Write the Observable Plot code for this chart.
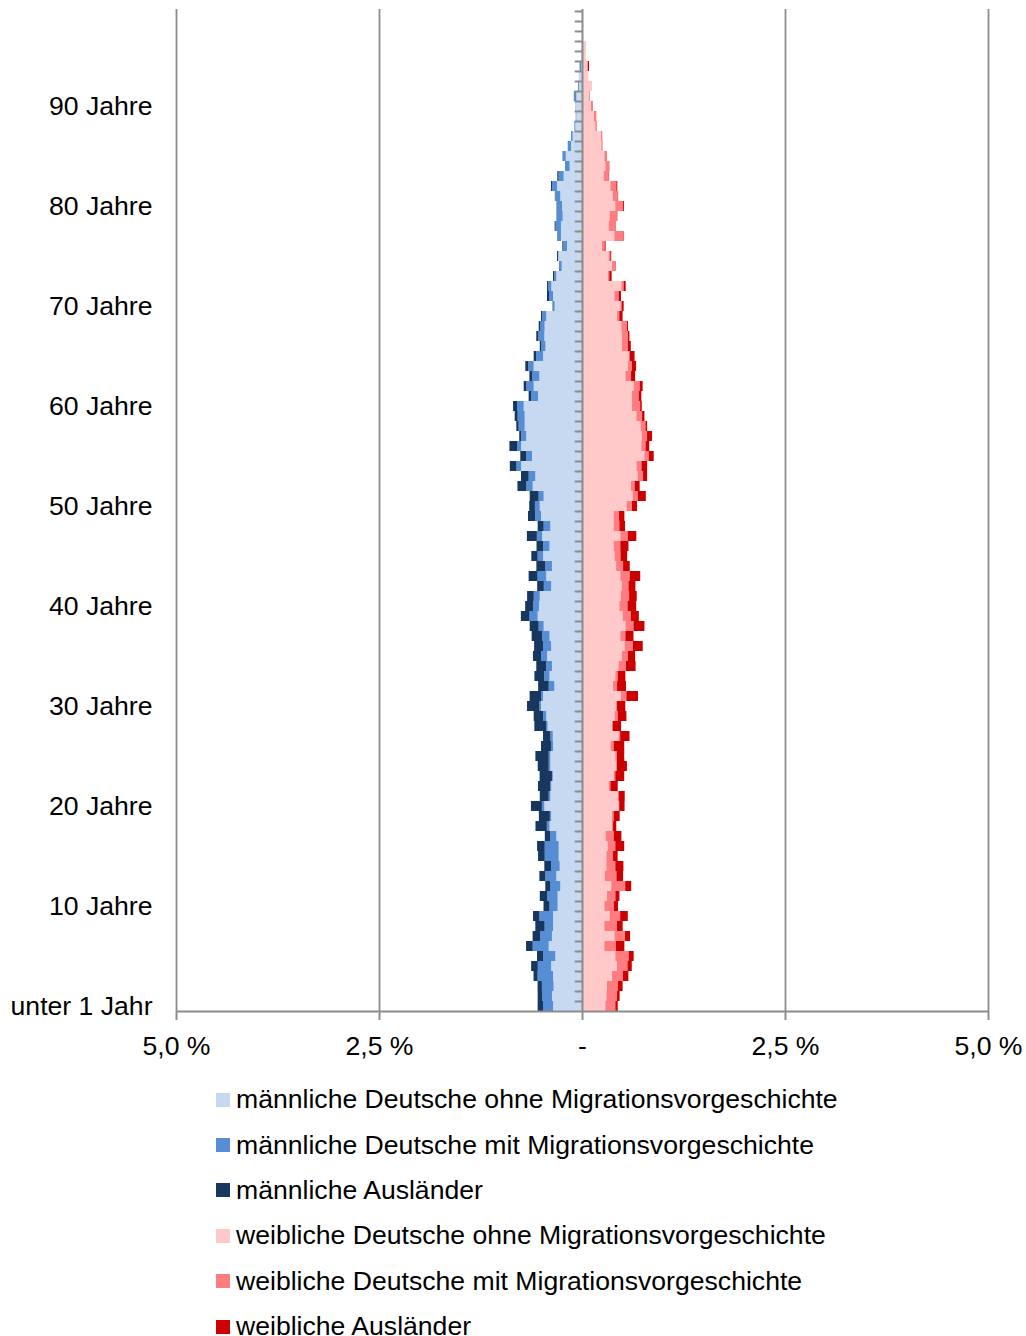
<!DOCTYPE html>
<html><head><meta charset="utf-8">
<script src="https://cdn.jsdelivr.net/npm/d3@7"></script>
<script src="https://cdn.jsdelivr.net/npm/@observablehq/plot@0.6"></script>
<style>
body{margin:0;background:#fff;font-family:"Liberation Sans",Arial,sans-serif;}
#chart{position:absolute;left:0;top:0;}
#legend{position:absolute;left:216px;top:1077px;}
.item{height:45.4px;display:flex;align-items:center;font-size:26.6px;color:#000;white-space:nowrap}
.sw{width:14px;height:14px;margin-right:6px;flex:none}
svg g[aria-label^="x-axis"] line, svg g[aria-label^="x-axis"] path{stroke:#8c8c8c;stroke-width:2px}
</style></head><body><div id="chart"></div><div id="legend"></div>
<script>
const ages = d3.range(0, 100);
const seriesNames = [
  "männliche Deutsche ohne Migrationsvorgeschichte",
  "männliche Deutsche mit Migrationsvorgeschichte",
  "männliche Ausländer",
  "weibliche Deutsche ohne Migrationsvorgeschichte",
  "weibliche Deutsche mit Migrationsvorgeschichte",
  "weibliche Ausländer"
];
const colors = ["#c6d9f1", "#558ed5", "#17375e", "#ffc9c9", "#ff7c80", "#cc0000"];
// values in % per age 0..99
const mOhne = [0.357,0.37,0.35,0.357,0.38,0.328,0.41,0.37,0.357,0.357,
  0.3,0.3,0.267,0.316,0.275,0.287,0.287,0.316,0.4,0.38,
  0.464,0.39,0.378,0.36,0.39,0.39,0.357,0.36,0.423,0.44,
  0.505,0.48,0.34,0.4,0.37,0.43,0.38,0.4,0.472,0.546,
  0.53,0.52,0.38,0.44,0.37,0.48,0.4,0.49,0.39,0.505,
  0.52,0.472,0.607,0.575,0.75,0.616,0.75,0.686,0.706,0.706,
  0.718,0.542,0.595,0.525,0.595,0.48,0.45,0.464,0.46,0.44,
  0.337,0.357,0.378,0.316,0.25,0.29,0.185,0.259,0.259,0.238,
  0.246,0.267,0.308,0.226,0.152,0.2,0.135,0.115,0.082,0.07,
  0.078,0.07,0.037,0.04,0.01,0.01,0.01,0,0,0];
const mMit = [0.123,0.123,0.144,0.19,0.164,0.152,0.197,0.144,0.103,0.168,
  0.1,0.13,0.123,0.135,0.107,0.172,0.172,0.074,0.033,0.016,
  0.03,0.02,0.012,0.01,0.02,0.02,0.025,0.03,0.02,0.04,
  0.02,0.025,0.07,0.066,0.07,0.074,0.1,0.09,0.062,0.1,
  0.07,0.074,0.09,0.107,0.082,0.066,0.078,0.066,0.082,0.07,
  0.06,0.062,0.078,0.082,0.057,0.07,0.05,0.062,0.074,0.086,
  0.082,0.086,0.09,0.09,0.066,0.086,0.05,0.074,0.053,0.053,
  0.02,0.049,0.041,0.025,0.029,0.005,0.045,0.041,0.066,0.07,
  0.062,0.062,0.062,0.062,0.057,0.041,0.041,0.02,0.012,0.008,
  0.004,0.025,0.012,0,0.02,0,0,0,0,0];
const mAus = [0.066,0.053,0.053,0.05,0.082,0.074,0.082,0.094,0.115,0.078,
  0.074,0.09,0.062,0.074,0.082,0.082,0.094,0.068,0.14,0.135,
  0.135,0.11,0.152,0.152,0.135,0.164,0.123,0.09,0.144,0.115,
  0.152,0.14,0.13,0.12,0.123,0.1,0.11,0.13,0.11,0.107,
  0.1,0.082,0.082,0.11,0.11,0.078,0.082,0.123,0.074,0.09,
  0.07,0.11,0.11,0.094,0.082,0.074,0.094,0.025,0.029,0.037,
  0.049,0.029,0.033,0.033,0.037,0.029,0.02,0.025,0.02,0.012,
  0.005,0.025,0.012,0.016,0.005,0.012,0.012,0.005,0.012,0.005,
  0.005,0.005,0.012,0.016,0,0,0,0,0,0,
  0,0.005,0,0,0,0,0,0,0,0];
const wOhne = [0.287,0.3,0.308,0.37,0.43,0.41,0.275,0.4,0.275,0.34,
  0.275,0.308,0.36,0.28,0.3,0.3,0.316,0.29,0.37,0.37,
  0.45,0.44,0.33,0.39,0.42,0.41,0.35,0.45,0.37,0.4,
  0.42,0.48,0.382,0.41,0.45,0.49,0.525,0.472,0.534,0.5,
  0.46,0.48,0.49,0.472,0.42,0.4,0.39,0.472,0.39,0.39,
  0.55,0.624,0.603,0.686,0.67,0.768,0.73,0.735,0.72,0.67,
  0.616,0.616,0.636,0.534,0.566,0.575,0.49,0.49,0.484,0.43,
  0.472,0.398,0.484,0.32,0.37,0.328,0.246,0.398,0.328,0.34,
  0.41,0.378,0.349,0.267,0.287,0.275,0.238,0.234,0.164,0.148,
  0.11,0.086,0.123,0.078,0.07,0.045,0.05,0.008,0.005,0.005];
const wMit = [0.123,0.13,0.135,0.135,0.13,0.164,0.144,0.13,0.156,0.13,
  0.115,0.103,0.172,0.144,0.11,0.082,0.094,0.1,0.012,0.02,
  0.008,0.012,0.02,0.02,0.01,0.02,0.04,0.02,0.008,0.04,
  0.01,0.066,0.05,0.03,0.09,0.074,0.1,0.062,0.1,0.1,
  0.1,0.1,0.082,0.115,0.086,0.074,0.082,0.09,0.07,0.066,
  0.066,0.062,0.045,0.066,0.062,0.053,0.053,0.066,0.062,0.07,
  0.1,0.082,0.074,0.07,0.05,0.012,0.074,0.074,0.07,0.029,
  0.016,0.053,0.029,0.016,0.04,0.02,0.033,0.115,0.082,0.09,
  0.094,0.062,0.074,0.062,0.053,0.033,0.016,0.016,0.02,0.029,
  0.025,0,0,0,0,0,0,0,0,0];
const wAus = [0.03,0.033,0.057,0.066,0.053,0.062,0.103,0.062,0.07,0.094,
  0.053,0.05,0.074,0.082,0.1,0.057,0.11,0.095,0.04,0.074,
  0.066,0.074,0.09,0.11,0.123,0.09,0.13,0.115,0.103,0.107,
  0.103,0.144,0.11,0.094,0.12,0.09,0.123,0.1,0.135,0.1,
  0.107,0.094,0.086,0.13,0.082,0.082,0.1,0.107,0.07,0.066,
  0.062,0.1,0.062,0.05,0.07,0.062,0.045,0.062,0.02,0.029,
  0.02,0.033,0.037,0.05,0.05,0.06,0.037,0.02,0.012,0.041,
  0.025,0.029,0.025,0.029,0.005,0.012,0.012,0.005,0.005,0.005,
  0.012,0.005,0.012,0.005,0,0,0,0,0,0,
  0,0.005,0,0,0.016,0,0,0,0,0];
const yTicks = [0, 10, 20, 30, 40, 50, 60, 70, 80, 90];
const xTicks = [-5, -2.5, 0, 2.5, 5];
const xTickLabels = ["5,0 %", "2,5 %", "-", "2,5 %", "5,0 %"];

const seriesValues = [mOhne, mMit, mAus, wOhne, wMit, wAus];
const data = [];
ages.forEach((a, i) => {
  seriesValues.forEach((arr, s) => {
    data.push({age: a, series: seriesNames[s], value: s < 3 ? -arr[i] : arr[i]});
  });
});

const gray = "#8c8c8c";
const chart = Plot.plot({
  width: 1026, height: 1066,
  marginLeft: 176, marginRight: 38, marginTop: 9, marginBottom: 53,
  style: {fontFamily: "Liberation Sans, Arial, sans-serif", fontSize: "26.6px", background: "white", color: "black"},
  x: {domain: [-5, 5], ticks: xTicks, tickFormat: d => xTickLabels[xTicks.indexOf(d)], tickSize: 7, tickPadding: 16, label: null},
  y: {type: "band", domain: ages.slice().reverse(), padding: 0, ticks: yTicks,
      tickFormat: d => d === 0 ? "unter 1 Jahr" : d + " Jahre", tickSize: 0, tickPadding: 24, label: null},
  color: {domain: seriesNames, range: colors},
  marks: [
    Plot.ruleX([-5, -2.5, 2.5, 5], {stroke: gray, strokeWidth: 1.8}),
    Plot.barX(data, {x: "value", y: "age", fill: "series"}),
    Plot.ruleX([0], {stroke: gray, strokeWidth: 2}),
    Plot.ruleY(ages, {y: d => d, x1: -0.09, x2: 0, dy: -5.02, stroke: gray, strokeWidth: 2}),
    Plot.ruleY([0], {x1: -5, x2: 5, dy: 5.02, stroke: gray, strokeWidth: 2})
  ]
});
document.getElementById("chart").appendChild(chart);

const legend = document.getElementById("legend");
seriesNames.forEach((n, i) => {
  const row = document.createElement("div");
  row.className = "item";
  const sw = document.createElement("span");
  sw.className = "sw";
  sw.style.background = colors[i];
  row.appendChild(sw);
  row.appendChild(document.createTextNode(n));
  legend.appendChild(row);
});
</script></body></html>
